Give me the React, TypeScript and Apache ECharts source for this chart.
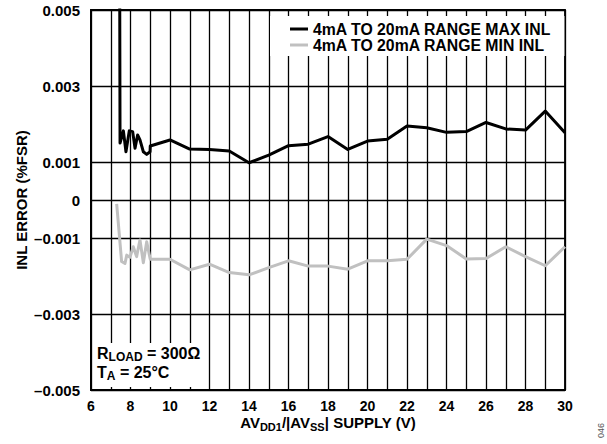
import React, { useEffect, useRef } from "react";
import * as echarts from "echarts";

const maxSupply = [7.45, 7.47, 7.64, 7.77, 7.94, 8.11, 8.23, 8.36, 8.48, 8.65, 8.82, 8.99, 9.0, 10, 11, 12, 13, 14, 15, 16, 17, 18, 19, 20, 21, 22, 23, 24, 25, 26, 27, 28, 29, 30];
const maxInl = [0.0065, 0.0015, 0.00182, 0.00127, 0.00182, 0.0018, 0.00136, 0.00171, 0.00158, 0.00127, 0.0012, 0.00127, 0.00142, 0.00158, 0.00134, 0.00133, 0.00129, 0.00098, 0.00118, 0.00143, 0.00147, 0.00167, 0.00133, 0.00155, 0.0016, 0.00195, 0.0019, 0.00178, 0.0018, 0.00204, 0.00187, 0.00184, 0.00234, 0.00177];

const minSupply = [7.3, 7.55, 7.72, 7.81, 7.97, 8.14, 8.31, 8.48, 8.65, 8.82, 9.0, 10, 11, 12, 13, 14, 15, 16, 17, 18, 19, 20, 21, 22, 23, 24, 25, 26, 27, 28, 29, 30];
const minInl = [-0.0001, -0.00162, -0.00167, -0.00145, -0.00151, -0.00123, -0.00149, -0.00105, -0.00165, -0.0011, -0.00156, -0.00156, -0.00184, -0.00169, -0.00191, -0.00197, -0.00178, -0.0016, -0.00174, -0.00174, -0.00182, -0.0016, -0.0016, -0.00156, -0.00103, -0.0012, -0.00155, -0.00154, -0.00123, -0.00149, -0.00173, -0.00123];

const seriesNames = ["4mA TO 20mA RANGE MAX INL", "4mA TO 20mA RANGE MIN INL"];
// helper grid axis in steps of 0.001 starting at -0.005 (0..10), lines every 2 steps
const gridStepMin = 0;
const gridStepMax = 10;
const gridStepInterval = 2;

const FONT = "'Liberation Sans', Arial, sans-serif";

function yLabel(v: number): string {
  const n = Math.round(v * 1000);
  if (n === 0) return "0";
  if (n % 2 === 0) return "";
  return (n < 0 ? "\u2013" : "") + "0.00" + Math.abs(n);
}

export default function App() {
  const ref = useRef<HTMLDivElement>(null);
  useEffect(() => {
    if (!ref.current) return;
    const chart = echarts.init(ref.current, undefined, { renderer: "svg" });
    chart.setOption({
      animation: false,
      backgroundColor: "#fff",
      textStyle: { fontFamily: FONT },
      grid: {
        left: 91, right: 42, top: 10, bottom: 54,
        show: true, borderColor: "#000", borderWidth: 1.8,
      },
      legend: {
        orient: "vertical",
        left: 270,
        top: 16,
        padding: [5, 13, 3, 20],
        backgroundColor: "#fff",
        itemGap: 0,
        itemWidth: 18,
        itemHeight: 3,
        icon: "rect",
        data: seriesNames,
        textStyle: { color: "#000", fontWeight: "bold", fontSize: 15.8, fontFamily: FONT },
      },
      xAxis: {
        type: "value",
        min: 6, max: 30, interval: 1,
        axisLine: { show: true, onZero: true, lineStyle: { color: "#000", width: 1.4 } },
        axisTick: { show: false },
        splitLine: { show: true, lineStyle: { color: "#000", width: 1.3 } },
        axisLabel: {
          formatter: (v: number) => (Math.round(v) % 2 === 0 ? String(Math.round(v)) : ""),
          color: "#000", fontWeight: "bold", fontSize: 14, margin: 9, fontFamily: FONT,
        },
        name: "{n|AV}{s|DD1}{n|/|AV}{s|SS}{n|| SUPPLY (V)}",
        nameLocation: "middle",
        nameGap: 22,
        nameMoveOverlap: false,
        nameTextStyle: {
          rich: {
            n: { fontSize: 15, fontWeight: "bold", color: "#000", fontFamily: FONT, lineHeight: 20, verticalAlign: "middle" },
            s: { fontSize: 11, fontWeight: "bold", color: "#000", fontFamily: FONT, lineHeight: 11, verticalAlign: "bottom" },
          },
        },
      },
      yAxis: [
        {
          type: "value",
          min: -0.005, max: 0.005, interval: 0.001,
          axisLine: { show: true, lineStyle: { color: "#000", width: 2 } },
          axisTick: { show: false },
          splitLine: { show: false },
          axisLabel: {
            formatter: yLabel,
            color: "#000", fontWeight: "bold", fontSize: 15, margin: 11, fontFamily: FONT,
          },
          name: "INL ERROR (%FSR)",
          nameLocation: "middle",
          nameGap: 62,
          nameMoveOverlap: false,
          nameTextStyle: { color: "#000", fontWeight: "bold", fontSize: 15, fontFamily: FONT },
        },
        {
          type: "value",
          position: "left",
          min: gridStepMin, max: gridStepMax, interval: gridStepInterval,
          axisLine: { show: false },
          axisTick: { show: false },
          axisLabel: { show: false },
          splitLine: { show: true, lineStyle: { color: "#000", width: 1.3 } },
        },
      ],
      series: [
        {
          name: seriesNames[0],
          type: "line",
          data: maxSupply.map((x, i) => [x, maxInl[i]]),
          showSymbol: false,
          clip: true,
          lineStyle: { color: "#000", width: 3, join: "round" },
          itemStyle: { color: "#000" },
          z: 5,
        },
        {
          name: seriesNames[1],
          type: "line",
          data: minSupply.map((x, i) => [x, minInl[i]]),
          showSymbol: false,
          clip: true,
          lineStyle: { color: "#c0c0c0", width: 3, join: "round" },
          itemStyle: { color: "#c0c0c0" },
          z: 4,
        },
      ],
      graphic: [
        { type: "rect", z: 100, shape: { x: 93, y: 343, width: 112, height: 44 }, style: { fill: "#fff" } },
        {
          type: "text", z: 101, x: 97, y: 344,
          style: {
            text: "{n|R}{s|LOAD}{n| = 300\u03a9}\n{n|T}{s|A}{n| = 25\u00b0C}",
            rich: {
              n: { fontSize: 16, fontWeight: "bold", fill: "#000", fontFamily: FONT, lineHeight: 19, verticalAlign: "middle" },
              s: { fontSize: 12, fontWeight: "bold", fill: "#000", fontFamily: FONT, lineHeight: 12, verticalAlign: "bottom" },
            },
          },
        },
        {
          type: "text", z: 101, x: 596, y: 438, rotation: Math.PI / 2,
          style: { text: "046", fontSize: 9, fill: "#555", fontFamily: FONT },
        },
      ],
    });
    return () => chart.dispose();
  }, []);
  return <div ref={ref} style={{ position: "fixed", left: 0, top: 0, width: 607, height: 444 }} />;
}
